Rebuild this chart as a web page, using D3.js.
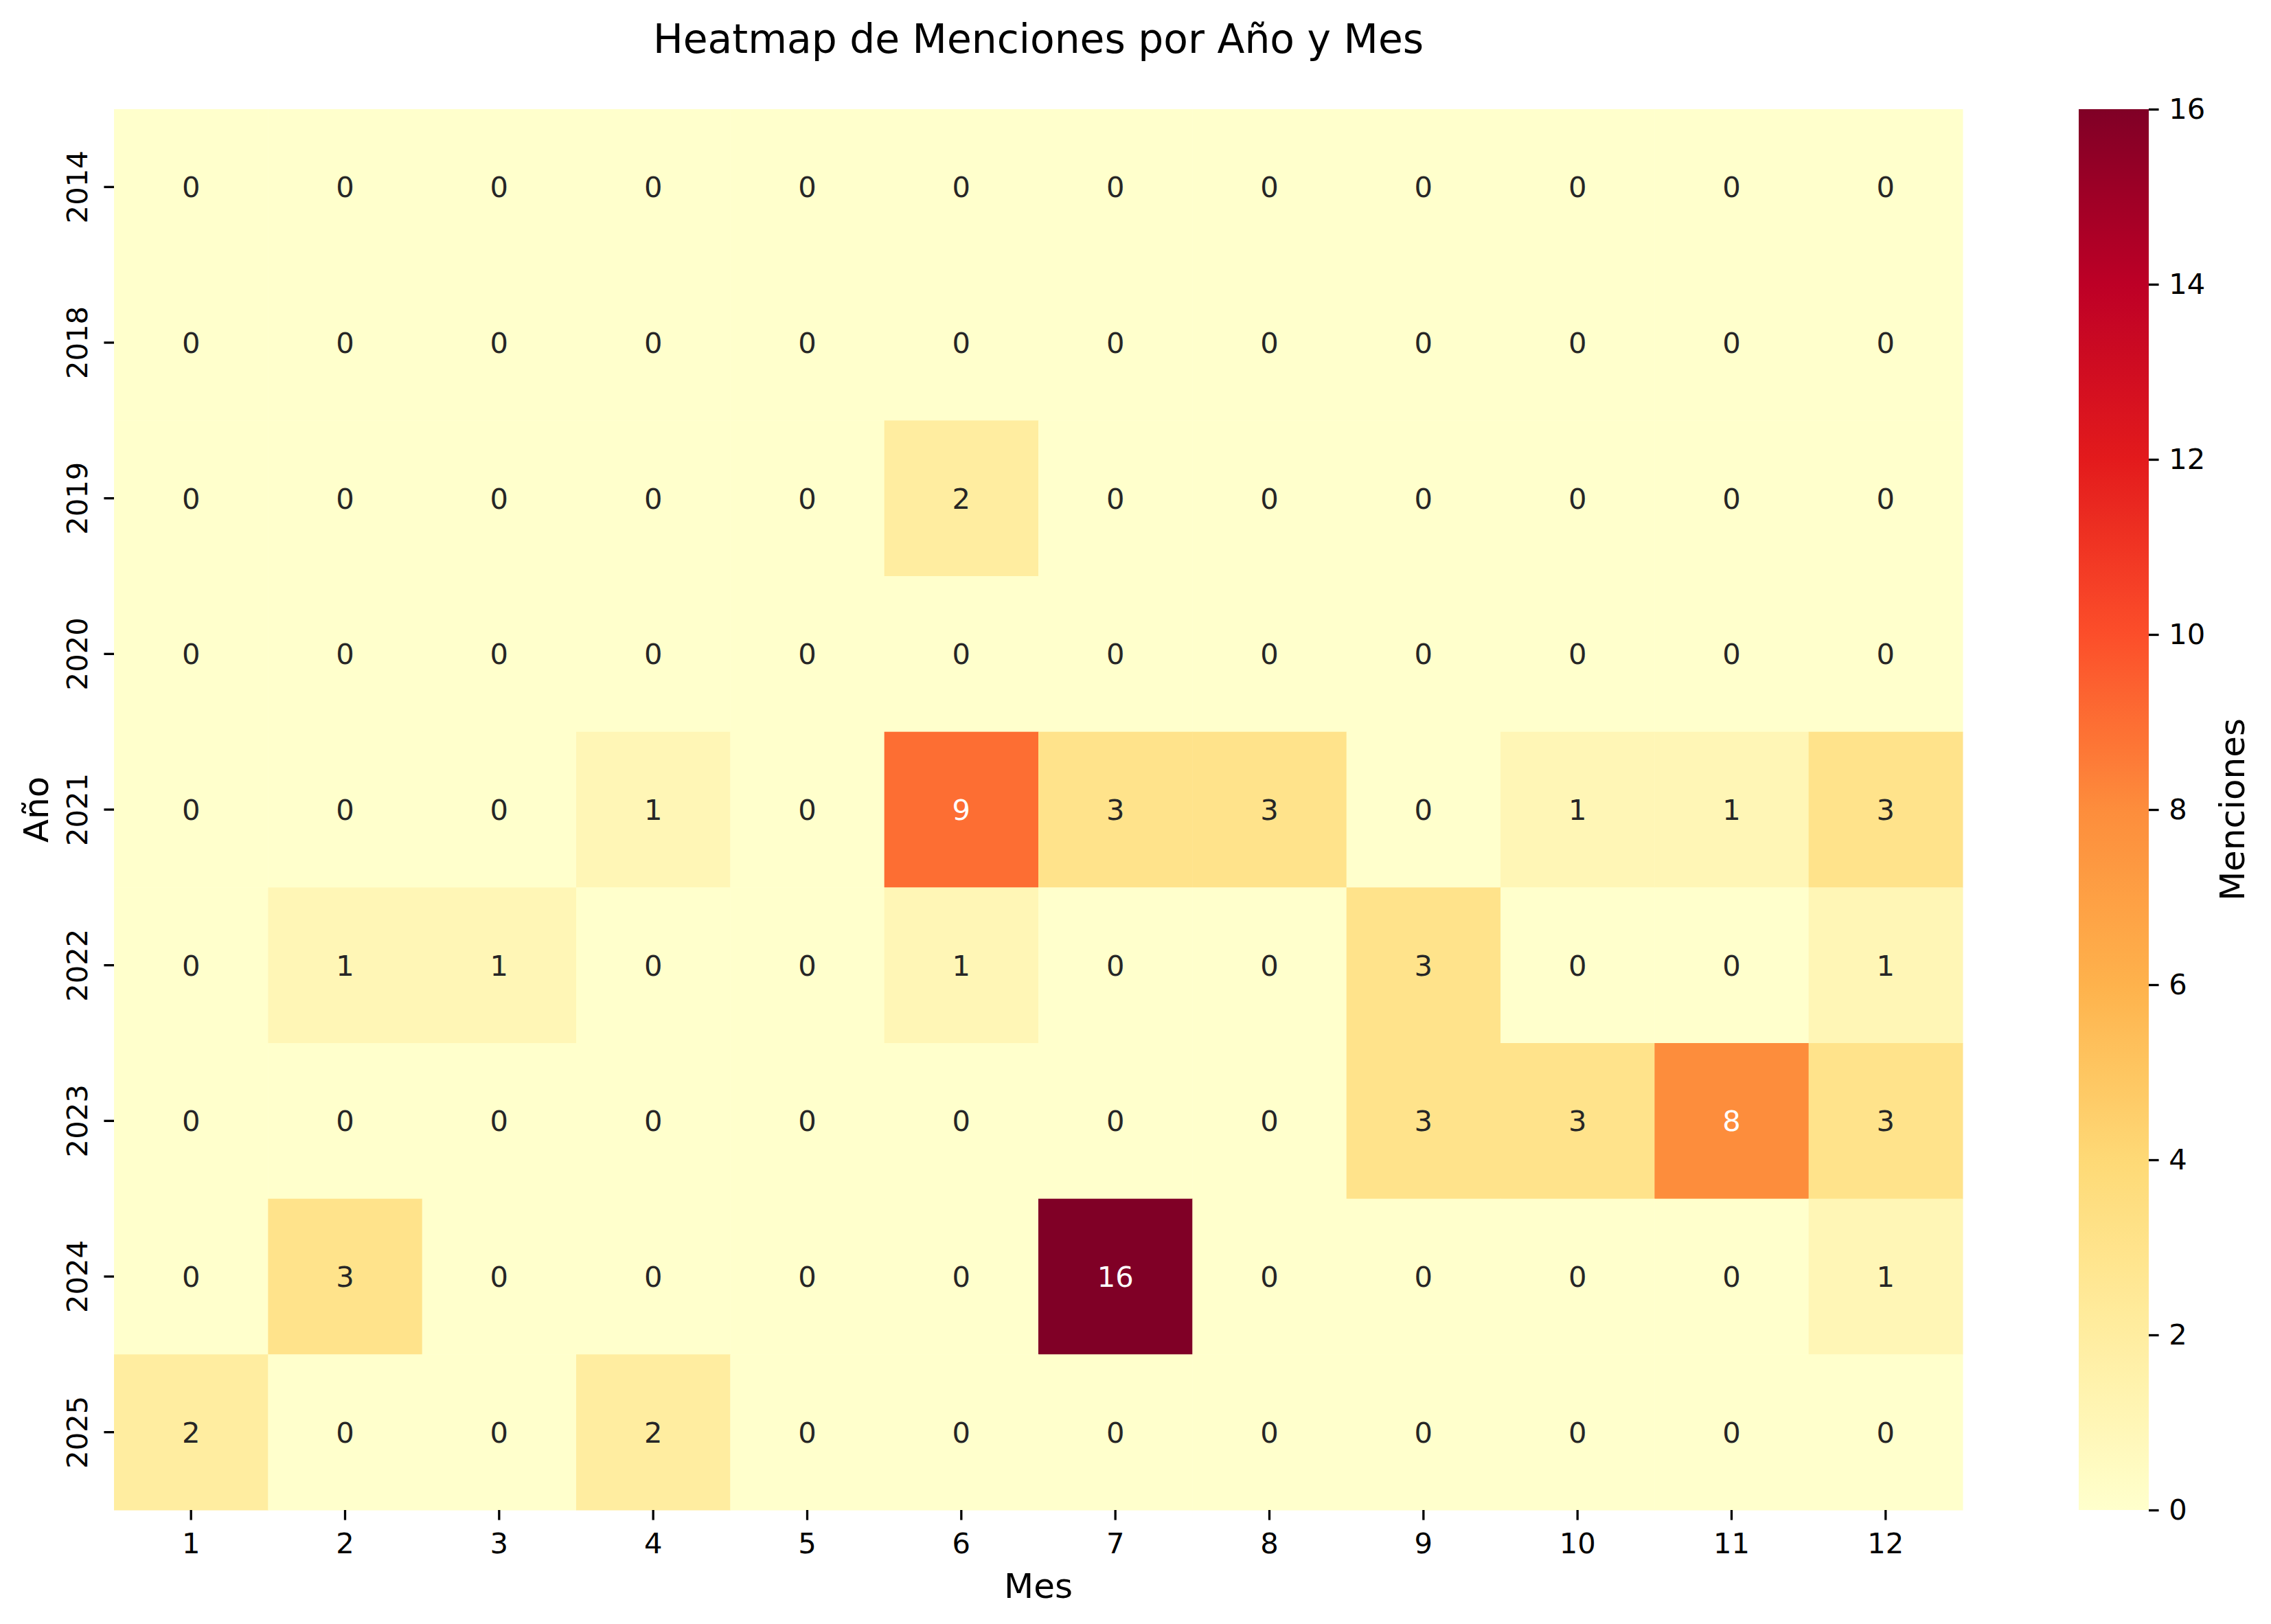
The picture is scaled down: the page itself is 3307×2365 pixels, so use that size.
<!DOCTYPE html>
<html>
<head>
<meta charset="utf-8">
<script src="https://cdn.jsdelivr.net/npm/d3@7"></script>
<style>
  body { margin: 0; background: #ffffff; }
  text { font-family: "DejaVu Sans", sans-serif; }
</style>
</head>
<body>
<div id="chart"></div>
<script>
// Data
const years = ["2014", "2018", "2019", "2020", "2021", "2022", "2023", "2024", "2025"];
const months = ["1", "2", "3", "4", "5", "6", "7", "8", "9", "10", "11", "12"];
const counts2014 = [0, 0, 0, 0, 0, 0, 0, 0, 0, 0, 0, 0];
const counts2018 = [0, 0, 0, 0, 0, 0, 0, 0, 0, 0, 0, 0];
const counts2019 = [0, 0, 0, 0, 0, 2, 0, 0, 0, 0, 0, 0];
const counts2020 = [0, 0, 0, 0, 0, 0, 0, 0, 0, 0, 0, 0];
const counts2021 = [0, 0, 0, 1, 0, 9, 3, 3, 0, 1, 1, 3];
const counts2022 = [0, 1, 1, 0, 0, 1, 0, 0, 3, 0, 0, 1];
const counts2023 = [0, 0, 0, 0, 0, 0, 0, 0, 3, 3, 8, 3];
const counts2024 = [0, 3, 0, 0, 0, 0, 16, 0, 0, 0, 0, 1];
const counts2025 = [2, 0, 0, 2, 0, 0, 0, 0, 0, 0, 0, 0];
const colorbarTicks = [0, 2, 4, 6, 8, 10, 12, 14, 16];

const rows = [counts2014, counts2018, counts2019, counts2020, counts2021,
              counts2022, counts2023, counts2024, counts2025];

// flatten into cells
const cells = [];
rows.forEach((r, i) => r.forEach((v, j) => cells.push({year: years[i], month: months[j], value: v})));

const W = 3307, H = 2365;
const plotLeft = 166, plotRight = 2858, plotTop = 159, plotBottom = 2199;
const cbLeft = 3027, cbRight = 3129;
const tickLen = 14.6, tickPad = 14.6, tickWidth = 3.3;
const tickFont = 41.7, labelFont = 50, titleFont = 58.3;

const svg = d3.select("#chart").append("svg")
  .attr("width", W)
  .attr("height", H)
  .style("background", "#ffffff");

// Scales
const x = d3.scaleBand().domain(months).range([plotLeft, plotRight]);
const y = d3.scaleBand().domain(years).range([plotTop, plotBottom]);

// YlOrRd, piecewise linear like matplotlib
const ylorrd = ["#ffffcc", "#ffeda0", "#fed976", "#feb24c", "#fd8d3c", "#fc4e2a", "#e31a1c", "#bd0026", "#800026"];
const vmin = 0, vmax = 16;
const color = d3.scaleLinear()
  .domain(ylorrd.map((c, i) => vmin + (vmax - vmin) * i / (ylorrd.length - 1)))
  .range(ylorrd)
  .interpolate(d3.interpolateRgb)
  .clamp(true);

// seaborn picks annotation colour from luminance
function luminance(c) {
  const rgb = d3.rgb(c);
  const ch = [rgb.r, rgb.g, rgb.b].map(v => {
    v = v / 255;
    return v <= 0.03928 ? v / 12.92 : Math.pow((v + 0.055) / 1.055, 2.4);
  });
  return 0.2126 * ch[0] + 0.7152 * ch[1] + 0.0722 * ch[2];
}

// Cells
svg.append("g")
  .selectAll("rect")
  .data(cells)
  .join("rect")
    .attr("x", d => x(d.month))
    .attr("y", d => y(d.year))
    .attr("width", x.bandwidth() + 0.5)
    .attr("height", y.bandwidth() + 0.5)
    .attr("fill", d => color(d.value));

// Annotations
svg.append("g")
  .selectAll("text")
  .data(cells)
  .join("text")
    .attr("x", d => x(d.month) + x.bandwidth() / 2)
    .attr("y", d => y(d.year) + y.bandwidth() / 2)
    .attr("dy", "0.36em")
    .attr("text-anchor", "middle")
    .style("font-size", tickFont + "px")
    .style("fill", d => luminance(color(d.value)) > 0.408 ? "#262626" : "#ffffff")
    .text(d => d.value);

// X axis
const xAxis = svg.append("g")
  .attr("transform", `translate(0, ${plotBottom})`)
  .call(d3.axisBottom(x).tickSize(tickLen).tickPadding(tickPad));
xAxis.select(".domain").remove();
xAxis.selectAll(".tick line").attr("stroke", "#000").attr("stroke-width", tickWidth);
xAxis.selectAll(".tick text")
  .attr("fill", "#000")
  .style("font-size", tickFont + "px")
  .style("font-family", "DejaVu Sans")
  .attr("dy", 34);

// Y axis with vertical labels
const yAxis = svg.append("g")
  .attr("transform", `translate(${plotLeft}, 0)`)
  .call(d3.axisLeft(y).tickSize(tickLen).tickPadding(tickPad));
yAxis.select(".domain").remove();
yAxis.selectAll(".tick line").attr("stroke", "#000").attr("stroke-width", tickWidth);
yAxis.selectAll(".tick text")
  .attr("fill", "#000")
  .style("font-size", tickFont + "px")
  .style("font-family", "DejaVu Sans")
  .attr("transform", "rotate(-90)")
  .attr("text-anchor", "middle")
  .attr("x", 0)
  .attr("dy", 0)
  .attr("y", -39);

// Axis labels
svg.append("text")
  .attr("x", (plotLeft + plotRight) / 2)
  .attr("y", 2327)
  .attr("text-anchor", "middle")
  .style("font-size", labelFont + "px")
  .text("Mes");

svg.append("text")
  .attr("transform", `translate(70, ${(plotTop + plotBottom) / 2}) rotate(-90)`)
  .attr("text-anchor", "middle")
  .style("font-size", labelFont + "px")
  .text("Año");

// Title
svg.append("text")
  .attr("x", (plotLeft + plotRight) / 2)
  .attr("y", 77)
  .attr("text-anchor", "middle")
  .style("font-size", titleFont + "px")
  .text("Heatmap de Menciones por Año y Mes");

// Colorbar
const cb = d3.scaleLinear().domain([vmin, vmax]).range([plotBottom, plotTop]);
const grad = svg.append("defs").append("linearGradient")
  .attr("id", "cbgrad")
  .attr("x1", 0).attr("y1", 1).attr("x2", 0).attr("y2", 0);
grad.selectAll("stop")
  .data(d3.range(0, 65).map(i => i / 64))
  .join("stop")
    .attr("offset", t => t)
    .attr("stop-color", t => color(vmin + t * (vmax - vmin)));

svg.append("rect")
  .attr("x", cbLeft)
  .attr("y", plotTop)
  .attr("width", cbRight - cbLeft)
  .attr("height", plotBottom - plotTop)
  .attr("fill", "url(#cbgrad)");

const cbAxis = svg.append("g")
  .attr("transform", `translate(${cbRight}, 0)`)
  .call(d3.axisRight(cb).tickValues(colorbarTicks).tickSize(tickLen).tickPadding(tickPad));
cbAxis.select(".domain").remove();
cbAxis.selectAll(".tick line").attr("stroke", "#000").attr("stroke-width", tickWidth);
cbAxis.selectAll(".tick text")
  .attr("fill", "#000")
  .style("font-size", tickFont + "px")
  .style("font-family", "DejaVu Sans");

svg.append("text")
  .attr("transform", `translate(3268, ${(plotTop + plotBottom) / 2}) rotate(-90)`)
  .attr("text-anchor", "middle")
  .style("font-size", labelFont + "px")
  .text("Menciones");
</script>
</body>
</html>
